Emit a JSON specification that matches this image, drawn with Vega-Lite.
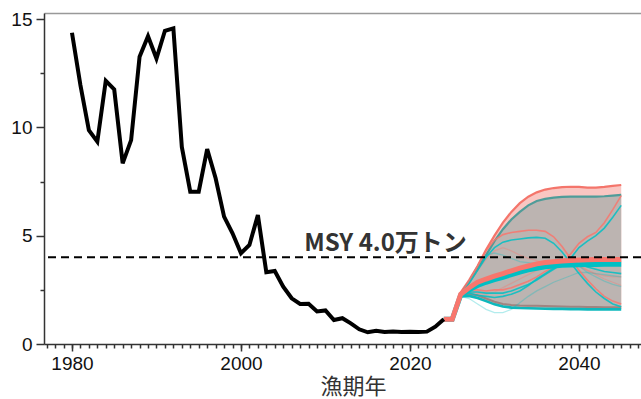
{
  "$schema": "https://vega.github.io/schema/vega-lite/v6.json",
  "width": 597,
  "height": 331,
  "autosize": {"type": "none"},
  "padding": {"left": 44, "top": 13, "right": 0, "bottom": 55},
  "background": "white",
  "config": {"view": {"stroke": null}, "axis": {"grid": false}},
  "datasets": {
    "obs": [
      {"year":1980,"catch":14.37},{"year":1981,"catch":11.95},{"year":1982,"catch":9.87},{"year":1983,"catch":9.34},
      {"year":1984,"catch":12.15},{"year":1985,"catch":11.75},{"year":1986,"catch":8.34},{"year":1987,"catch":9.41},
      {"year":1988,"catch":13.26},{"year":1989,"catch":14.21},{"year":1990,"catch":13.18},{"year":1991,"catch":14.46},
      {"year":1992,"catch":14.57},{"year":1993,"catch":9.1},{"year":1994,"catch":7.03},{"year":1995,"catch":7.03},
      {"year":1996,"catch":9.0},{"year":1997,"catch":7.65},{"year":1998,"catch":5.88},{"year":1999,"catch":5.11},
      {"year":2000,"catch":4.19},{"year":2001,"catch":4.57},{"year":2002,"catch":5.95},{"year":2003,"catch":3.31},
      {"year":2004,"catch":3.37},{"year":2005,"catch":2.65},{"year":2006,"catch":2.11},{"year":2007,"catch":1.85},
      {"year":2008,"catch":1.86},{"year":2009,"catch":1.5},{"year":2010,"catch":1.55},{"year":2011,"catch":1.11},
      {"year":2012,"catch":1.19},{"year":2013,"catch":0.95},{"year":2014,"catch":0.68},{"year":2015,"catch":0.54},
      {"year":2016,"catch":0.61},{"year":2017,"catch":0.55},{"year":2018,"catch":0.58},{"year":2019,"catch":0.55},
      {"year":2020,"catch":0.57},{"year":2021,"catch":0.55},{"year":2022,"catch":0.57},{"year":2023,"catch":0.8},
      {"year":2024,"catch":1.14}
    ],
    "proj": [
      {"year":2024,"aLo":1.14,"aHi":1.14,"bLo":1.14,"bHi":1.14,"mA":1.14,"mB":1.14,"R1":1.14,"R2":1.14,"R3":1.14,"R4":1.14,"T1":1.14,"T2":1.14,"T3":1.14,"T4":1.14,"T5":1.14},
      {"year":2025,"aLo":1.14,"aHi":1.14,"bLo":1.14,"bHi":1.14,"mA":1.14,"mB":1.14,"R1":1.14,"R2":1.14,"R3":1.14,"R4":1.14,"T1":1.14,"T2":1.14,"T3":1.14,"T4":1.14,"T5":1.14},
      {"year":2026,"aLo":2.25,"aHi":2.38,"bLo":2.2,"bHi":2.3,"mA":2.3,"mB":2.25,"R1":2.3,"R2":2.3,"R3":2.3,"R4":2.3,"T1":2.25,"T2":2.25,"T3":2.25,"T4":2.25,"T5":2.2},
      {"year":2027,"aLo":2.3,"aHi":2.95,"bLo":2.22,"bHi":2.85,"mA":2.6,"mB":2.5,"R1":2.9,"R2":2.5,"R3":2.8,"R4":2.4,"T1":2.8,"T2":2.4,"T3":2.9,"T4":2.35,"T5":2.1},
      {"year":2028,"aLo":2.25,"aHi":3.6,"bLo":2.12,"bHi":3.45,"mA":2.85,"mB":2.7,"R1":3.6,"R2":2.5,"R3":3.4,"R4":2.35,"T1":3.4,"T2":2.4,"T3":3.6,"T4":2.25,"T5":1.85},
      {"year":2029,"aLo":2.1,"aHi":4.35,"bLo":1.98,"bHi":4.1,"mA":3.0,"mB":2.85,"R1":4.3,"R2":2.45,"R3":3.9,"R4":2.3,"T1":4.0,"T2":2.35,"T3":4.1,"T4":2.2,"T5":1.6},
      {"year":2030,"aLo":1.95,"aHi":5.0,"bLo":1.83,"bHi":4.75,"mA":3.13,"mB":2.97,"R1":4.8,"R2":2.5,"R3":4.3,"R4":2.4,"T1":4.45,"T2":2.35,"T3":4.2,"T4":2.15,"T5":1.45},
      {"year":2031,"aLo":1.85,"aHi":5.6,"bLo":1.73,"bHi":5.3,"mA":3.25,"mB":3.08,"R1":5.05,"R2":2.5,"R3":4.45,"R4":2.6,"T1":4.7,"T2":2.35,"T3":4.1,"T4":2.2,"T5":1.45},
      {"year":2032,"aLo":1.8,"aHi":6.1,"bLo":1.68,"bHi":5.75,"mA":3.38,"mB":3.2,"R1":5.15,"R2":2.6,"R3":4.3,"R4":2.8,"T1":4.8,"T2":2.45,"T3":3.95,"T4":2.3,"T5":1.6},
      {"year":2033,"aLo":1.78,"aHi":6.5,"bLo":1.66,"bHi":6.1,"mA":3.5,"mB":3.32,"R1":5.2,"R2":2.75,"R3":4.1,"R4":3.0,"T1":4.85,"T2":2.6,"T3":3.8,"T4":2.45,"T5":1.9},
      {"year":2034,"aLo":1.77,"aHi":6.8,"bLo":1.65,"bHi":6.4,"mA":3.6,"mB":3.42,"R1":5.25,"R2":2.9,"R3":3.95,"R4":3.2,"T1":4.9,"T2":2.75,"T3":3.75,"T4":2.7,"T5":2.2},
      {"year":2035,"aLo":1.76,"aHi":7.0,"bLo":1.64,"bHi":6.6,"mA":3.7,"mB":3.5,"R1":5.25,"R2":3.1,"R3":3.85,"R4":3.4,"T1":4.92,"T2":2.95,"T3":3.7,"T4":3.0,"T5":2.45},
      {"year":2036,"aLo":1.75,"aHi":7.13,"bLo":1.63,"bHi":6.7,"mA":3.76,"mB":3.56,"R1":5.2,"R2":3.35,"R3":3.75,"R4":3.55,"T1":4.88,"T2":3.2,"T3":3.65,"T4":3.25,"T5":2.65},
      {"year":2037,"aLo":1.74,"aHi":7.2,"bLo":1.62,"bHi":6.76,"mA":3.8,"mB":3.6,"R1":4.95,"R2":3.55,"R3":3.7,"R4":3.7,"T1":4.65,"T2":3.45,"T3":3.65,"T4":3.5,"T5":2.85},
      {"year":2038,"aLo":1.73,"aHi":7.24,"bLo":1.62,"bHi":6.79,"mA":3.83,"mB":3.63,"R1":4.5,"R2":3.8,"R3":3.75,"R4":3.8,"T1":4.25,"T2":3.7,"T3":3.75,"T4":3.7,"T5":3.0},
      {"year":2039,"aLo":1.72,"aHi":7.26,"bLo":1.61,"bHi":6.8,"mA":3.86,"mB":3.65,"R1":3.95,"R2":4.15,"R3":3.8,"R4":3.85,"T1":3.75,"T2":3.95,"T3":3.85,"T4":3.85,"T5":3.15},
      {"year":2040,"aLo":1.72,"aHi":7.25,"bLo":1.61,"bHi":6.8,"mA":3.88,"mB":3.66,"R1":3.4,"R2":4.65,"R3":3.6,"R4":3.6,"T1":3.25,"T2":4.45,"T3":3.6,"T4":3.7,"T5":3.3},
      {"year":2041,"aLo":1.71,"aHi":7.22,"bLo":1.6,"bHi":6.8,"mA":3.89,"mB":3.67,"R1":2.95,"R2":4.95,"R3":3.4,"R4":3.4,"T1":2.8,"T2":4.75,"T3":3.3,"T4":3.55,"T5":3.3},
      {"year":2042,"aLo":1.71,"aHi":7.22,"bLo":1.6,"bHi":6.8,"mA":3.9,"mB":3.67,"R1":2.55,"R2":5.15,"R3":3.2,"R4":3.25,"T1":2.4,"T2":5.0,"T3":3.1,"T4":3.45,"T5":3.25},
      {"year":2043,"aLo":1.7,"aHi":7.25,"bLo":1.6,"bHi":6.82,"mA":3.9,"mB":3.68,"R1":2.2,"R2":5.6,"R3":3.0,"R4":3.15,"T1":2.1,"T2":5.35,"T3":2.9,"T4":3.35,"T5":3.2},
      {"year":2044,"aLo":1.7,"aHi":7.3,"bLo":1.6,"bHi":6.85,"mA":3.9,"mB":3.68,"R1":1.98,"R2":6.2,"R3":2.85,"R4":3.1,"T1":1.85,"T2":5.85,"T3":2.75,"T4":3.3,"T5":3.15},
      {"year":2045,"aLo":1.7,"aHi":7.34,"bLo":1.6,"bHi":6.88,"mA":3.9,"mB":3.68,"R1":1.85,"R2":6.85,"R3":2.7,"R4":3.1,"T1":1.72,"T2":6.4,"T3":2.65,"T4":3.25,"T5":3.1}
    ]
  },
  "resolve": {"scale": {"x": "shared", "y": "shared"}, "axis": {"x": "independent", "y": "independent"}},
  "layer": [
    {
      "data": {"name": "proj"},
      "mark": {"type": "area", "color": "#F9C6C2", "opacity": 1},
      "encoding": {
        "x": {"field": "year", "type": "quantitative", "scale": {"domain": [1976.69, 2047.34], "nice": false, "zero": false},
              "axis": {"orient": "bottom", "values": [1977,1978,1979,1980,1981,1982,1983,1984,1985,1986,1987,1988,1989,1990,1991,1992,1993,1994,1995,1996,1997,1998,1999,2000,2001,2002,2003,2004,2005,2006,2007,2008,2009,2010,2011,2012,2013,2014,2015,2016,2017,2018,2019,2020,2021,2022,2023,2024,2025,2026,2027,2028,2029,2030,2031,2032,2033,2034,2035,2036,2037,2038,2039,2040,2041,2042,2043,2044,2045,2046,2047],
                       "labels": false, "domain": false, "tickSize": 4, "tickWidth": 1.5, "tickColor": "#333333", "title": null}},
        "y": {"field": "aLo", "type": "quantitative", "scale": {"domain": [0, 15.28], "nice": false},
              "axis": {"orient": "left", "values": [2.5, 7.5, 12.5], "labels": false, "domain": false, "tickSize": 4, "tickWidth": 1.5, "tickColor": "#333333", "title": null}},
        "y2": {"field": "aHi"}
      }
    },
    {
      "data": {"name": "proj"},
      "mark": {"type": "area", "color": "#BCB4B1", "opacity": 1},
      "encoding": {
        "x": {"field": "year", "type": "quantitative",
              "axis": {"orient": "top", "ticks": false, "labels": false, "domain": true, "domainColor": "#999999", "domainWidth": 1.5, "title": null}},
        "y": {"field": "bLo", "type": "quantitative", "axis": null},
        "y2": {"field": "bHi"}
      }
    },
    {
      "data": {"name": "proj"},
      "mark": {"type": "line", "color": "#F4756B", "strokeWidth": 2.2},
      "encoding": {
        "x": {"field": "year", "type": "quantitative", "axis": null},
        "y": {"field": "aHi", "type": "quantitative", "axis": null}
      }
    },
    {
      "data": {"name": "proj"},
      "mark": {"type": "line", "color": "#A08480", "strokeWidth": 2},
      "encoding": {
        "x": {"field": "year", "type": "quantitative", "axis": null},
        "y": {"field": "aLo", "type": "quantitative", "axis": null}
      }
    },
    {
      "data": {"name": "proj"},
      "mark": {"type": "line", "color": "#4F9C99", "strokeWidth": 2.2},
      "encoding": {
        "x": {"field": "year", "type": "quantitative", "axis": null},
        "y": {"field": "bHi", "type": "quantitative", "axis": null}
      }
    },
    {
      "data": {"name": "proj"},
      "mark": {"type": "line", "color": "#0DB8BC", "strokeWidth": 2.6},
      "encoding": {
        "x": {"field": "year", "type": "quantitative", "axis": null},
        "y": {"field": "bLo", "type": "quantitative", "axis": null}
      }
    },
    {
      "data": {"name": "proj"},
      "transform": [{"fold": ["R3", "R4"], "as": ["sim", "value"]}],
      "mark": {"type": "line", "color": "#F8766D", "strokeWidth": 1.3, "opacity": 0.35},
      "encoding": {
        "x": {"field": "year", "type": "quantitative", "axis": null},
        "y": {"field": "value", "type": "quantitative", "axis": null},
        "detail": {"field": "sim"}
      }
    },
    {
      "data": {"name": "proj"},
      "transform": [{"fold": ["T3", "T5"], "as": ["sim", "value"]}],
      "mark": {"type": "line", "color": "#00BFC4", "strokeWidth": 1.3, "opacity": 0.3},
      "encoding": {
        "x": {"field": "year", "type": "quantitative", "axis": null},
        "y": {"field": "value", "type": "quantitative", "axis": null},
        "detail": {"field": "sim"}
      }
    },
    {
      "data": {"name": "proj"},
      "transform": [{"fold": ["R1", "R2"], "as": ["sim", "value"]}],
      "mark": {"type": "line", "color": "#F8766D", "strokeWidth": 1.6, "opacity": 0.85},
      "encoding": {
        "x": {"field": "year", "type": "quantitative", "axis": null},
        "y": {"field": "value", "type": "quantitative", "axis": null},
        "detail": {"field": "sim"}
      }
    },
    {
      "data": {"name": "proj"},
      "transform": [{"fold": ["T1", "T2", "T4"], "as": ["sim", "value"]}],
      "mark": {"type": "line", "color": "#00BFC4", "strokeWidth": 1.6, "opacity": 0.85},
      "encoding": {
        "x": {"field": "year", "type": "quantitative", "axis": null},
        "y": {"field": "value", "type": "quantitative", "axis": null},
        "detail": {"field": "sim"}
      }
    },
    {
      "data": {"name": "proj"},
      "mark": {"type": "line", "color": "#00BFC4", "strokeWidth": 5},
      "encoding": {
        "x": {"field": "year", "type": "quantitative", "axis": null},
        "y": {"field": "mB", "type": "quantitative", "axis": null}
      }
    },
    {
      "data": {"name": "proj"},
      "mark": {"type": "line", "color": "#F8766D", "strokeWidth": 5},
      "encoding": {
        "x": {"field": "year", "type": "quantitative", "axis": null},
        "y": {"field": "mA", "type": "quantitative", "axis": null}
      }
    },
    {
      "data": {"name": "obs"},
      "mark": {"type": "line", "color": "#000000", "strokeWidth": 4},
      "encoding": {
        "x": {"field": "year", "type": "quantitative",
              "axis": {"orient": "bottom", "values": [1980, 2000, 2020, 2040], "format": "d", "tickSize": 7, "tickWidth": 1.5, "tickColor": "#333333",
                       "domainColor": "#333333", "domainWidth": 1.5, "labelFont": "Liberation Sans", "labelFontSize": 19, "labelColor": "#111111", "labelPadding": 3,
                       "title": "漁期年", "titleFont": "Noto Sans CJK JP", "titleFontSize": 22, "titleFontWeight": "normal", "titleColor": "#333333",
                       "titleX": 309, "titleY": 49, "titleAlign": "center", "titleBaseline": "alphabetic", "labelFlush": false}},
        "y": {"field": "catch", "type": "quantitative",
              "axis": {"orient": "left", "values": [0, 5, 10, 15], "tickSize": 8, "tickWidth": 1.5, "tickColor": "#333333",
                       "domainColor": "#333333", "domainWidth": 1.5, "labelFont": "Liberation Sans", "labelFontSize": 19, "labelColor": "#111111", "labelPadding": 4,
                       "title": null, "labelFlush": false}}
      }
    },
    {
      "data": {"values": [{"msy": 4.0}]},
      "mark": {"type": "rule", "color": "#000000", "strokeWidth": 2, "strokeDash": [8, 5]},
      "encoding": {"y": {"field": "msy", "type": "quantitative", "axis": null}}
    },
    {
      "data": {"values": [{"msy": 4.0, "label": "MSY 4.0万トン"}]},
      "mark": {"type": "text", "align": "left", "baseline": "alphabetic", "dy": -6, "font": "Noto Sans CJK JP", "fontWeight": "bold", "fontSize": 24, "color": "#333333"},
      "encoding": {
        "x": {"datum": 2007.5, "type": "quantitative", "axis": null},
        "y": {"field": "msy", "type": "quantitative", "axis": null},
        "text": {"field": "label"}
      }
    }
  ]
}
